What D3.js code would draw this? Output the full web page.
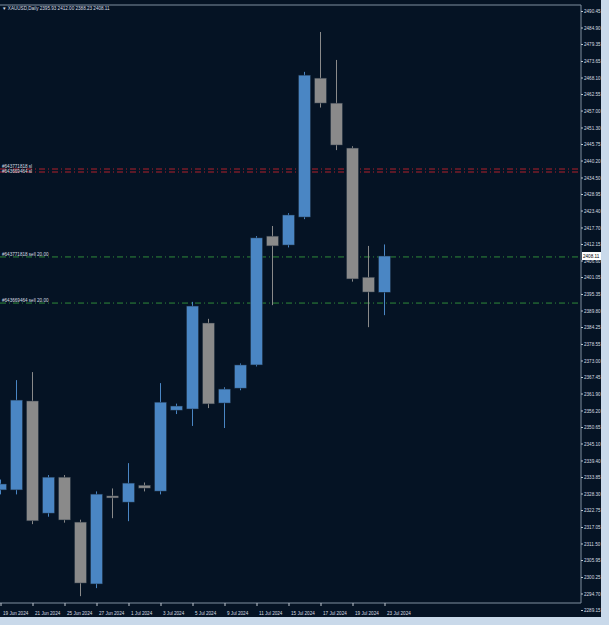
<!DOCTYPE html>
<html>
<head>
<meta charset="utf-8">
<script src="https://cdn.jsdelivr.net/npm/d3@7"></script>
<style>
body { margin: 0; background: #c9d9ea; }
text { font-family: "Liberation Sans", sans-serif; }
</style>
</head>
<body>
<div id="chart"></div>
<script>
const dates = ["19 Jun","20 Jun","21 Jun","24 Jun","25 Jun","26 Jun","27 Jun","28 Jun","1 Jul","2 Jul","3 Jul","4 Jul","5 Jul",
  "8 Jul","9 Jul","10 Jul","11 Jul","12 Jul","15 Jul","16 Jul","17 Jul","18 Jul","19 Jul","22 Jul","23 Jul"];
const opens  = [2329.5,2329.5,2359.4,2321.7,2333.8,2318.7,2297.9,2327.5,2325.4,2331.1,2329.1,2356.3,2356.7,2385.6,2358.7,2363.7,2371.5,2414.8,2411.8,2421.2,2467.9,2459.5,2444.4,2401.0,2395.93];
const highs  = [2333.0,2366.4,2369.1,2334.5,2334.5,2319.5,2329.0,2330.0,2338.5,2332.0,2365.4,2358.5,2392.7,2387.0,2364.0,2372.0,2414.8,2418.2,2422.5,2470.0,2483.4,2474.0,2445.0,2411.5,2412.00];
const lows   = [2328.0,2328.0,2318.0,2320.5,2318.5,2293.8,2296.5,2320.0,2319.0,2329.0,2328.0,2355.0,2351.0,2357.0,2350.3,2363.0,2371.0,2391.6,2411.0,2420.5,2458.0,2443.7,2399.5,2384.2,2388.23];
const closes = [2331.5,2359.7,2319.1,2333.8,2319.4,2298.2,2328.1,2326.8,2331.8,2330.1,2359.0,2357.7,2391.3,2358.4,2363.4,2371.5,2414.2,2411.5,2421.9,2468.9,2459.5,2445.4,2400.4,2396.0,2408.11];
const dateLabels = ["19 Jun 2024","21 Jun 2024","25 Jun 2024","27 Jun 2024","1 Jul 2024","3 Jul 2024","5 Jul 2024","9 Jul 2024","11 Jul 2024","15 Jul 2024","17 Jul 2024","19 Jul 2024","23 Jul 2024"];
const priceTicks = [2490.45,2484.90,2479.35,2473.65,2468.10,2462.55,2457.00,2451.30,2445.75,2440.20,2434.50,2428.95,2423.40,2417.70,2412.15,2406.60,2401.05,2395.35,2389.80,2384.25,2378.55,2373.00,2367.45,2361.90,2356.20,2350.65,2345.10,2339.40,2333.85,2328.30,2322.75,2317.05,2311.50,2305.95,2300.25,2294.70,2289.15];
const orderNames = ["#643771818 sl","#643669464 sl","#643771818 sell 20.00","#643669464 sell 20.00"];
const orderPrices = [2437.35,2436.34,2407.8,2392.3];
const orderColors = ["#b0202a","#b0202a","#2f8a3a","#2f8a3a"];
const lastPrice = 2408.11;

const W = 609, H = 625, plotW = 581, plotH = 603;
const svg = d3.select("#chart").append("svg").attr("width", W).attr("height", H);
svg.append("rect").attr("width", 601).attr("height", 617).attr("fill", "#051324");

const x = d3.scaleLinear().domain([0, dates.length - 1]).range([0.5, 384.5]);
const y = d3.scaleLinear().domain([2289.15, 2490.45]).range([610, 11]);

// frame
svg.append("line").attr("x1", plotW).attr("x2", plotW).attr("y1", 5).attr("y2", plotH).attr("stroke", "#8090a0");
svg.append("line").attr("x1", 0).attr("x2", plotW).attr("y1", plotH).attr("y2", plotH).attr("stroke", "#8090a0");
svg.append("line").attr("x1", 0).attr("x2", plotW).attr("y1", 5).attr("y2", 5).attr("stroke", "#8090a0");

// price axis
const yAxis = svg.append("g").attr("transform", `translate(${plotW},0)`)
  .call(d3.axisRight(y).tickValues(priceTicks).tickFormat(d3.format(".2f")).tickSize(2));
yAxis.select(".domain").remove();
yAxis.selectAll("line").attr("stroke", "#c0c8d0");
yAxis.selectAll("text").attr("fill", "#d8dde2").attr("font-size", 4.6).attr("x", 3).attr("dy", "0.35em");

// date axis
const xAxis = svg.append("g").attr("transform", `translate(0,${plotH})`)
  .call(d3.axisBottom(x).tickValues(d3.range(0, dates.length, 2)).tickFormat((d, i) => dateLabels[i]).tickSize(3));
xAxis.select(".domain").remove();
xAxis.selectAll("line").attr("stroke", "#c0c8d0");
xAxis.selectAll("text").attr("fill", "#d8dde2").attr("font-size", 4.6).attr("text-anchor", "start").attr("x", 2).attr("y", 9);

// order lines
const plot = svg.append("g");
orderPrices.forEach((p, i) => {
  plot.append("line").attr("x1", 0).attr("x2", plotW).attr("y1", y(p)).attr("y2", y(p))
    .attr("stroke", orderColors[i]).attr("stroke-dasharray", "6,3,1,3");
  plot.append("text").attr("x", 2).attr("y", y(p) - 1 + (i === 1 ? 2 : 0)).text(orderNames[i])
    .attr("fill", "#d8dde2").attr("font-size", 4.6);
});

// candles
const bw = 12;
dates.forEach((d, i) => {
  const up = closes[i] >= opens[i];
  const col = up ? "#4a86c4" : "#8a8a8a";
  plot.append("line").attr("x1", x(i)).attr("x2", x(i)).attr("y1", y(highs[i])).attr("y2", y(lows[i]))
    .attr("stroke", col);
  const top = y(Math.max(opens[i], closes[i])), bot = y(Math.min(opens[i], closes[i]));
  plot.append("rect").attr("x", x(i) - bw / 2).attr("y", top).attr("width", bw).attr("height", Math.max(1, bot - top))
    .attr("fill", col).attr("stroke", "#1c2a3a").attr("stroke-width", 0.5);
});

// last price tag
svg.append("rect").attr("x", plotW + 1).attr("y", y(lastPrice) - 4).attr("width", 19).attr("height", 8).attr("fill", "#ffffff");
svg.append("text").attr("x", plotW + 2).attr("y", y(lastPrice) + 2).text(lastPrice.toFixed(2))
  .attr("fill", "#000").attr("font-size", 4.6);

// title
svg.append("text").attr("x", 2).attr("y", 10).text("▼ XAUUSD,Daily  2395.93 2412.00 2388.23 2408.11")
  .attr("fill", "#d8dde2").attr("font-size", 4.6);
</script>
</body>
</html>
